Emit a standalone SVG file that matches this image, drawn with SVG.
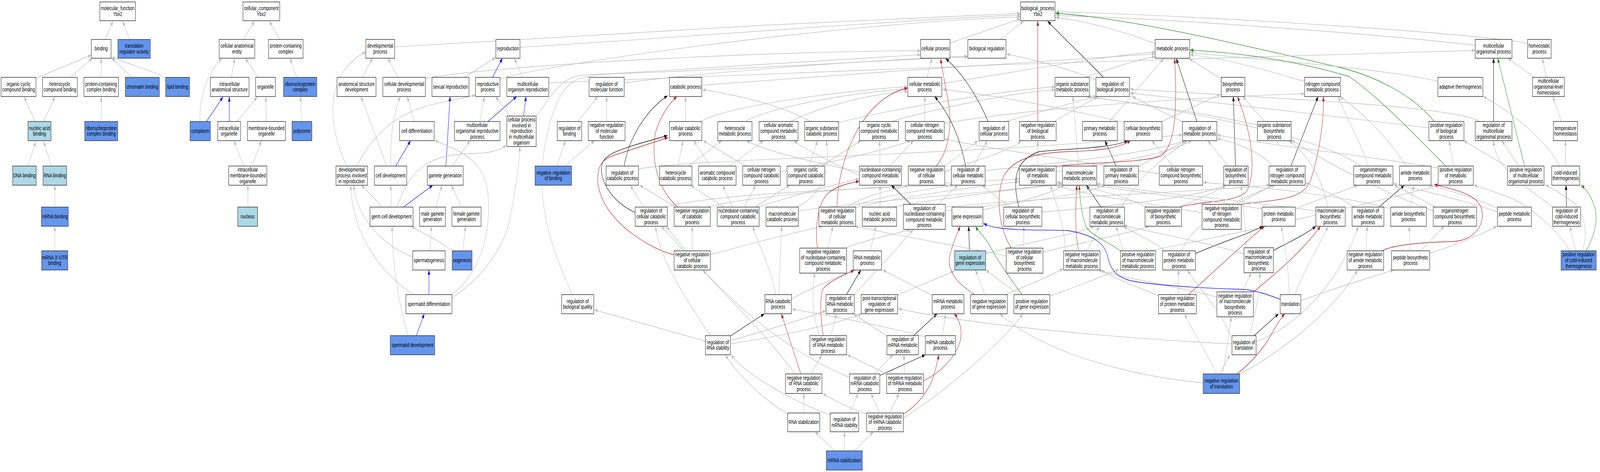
<svg xmlns="http://www.w3.org/2000/svg" width="5834" height="1208" viewBox="0 0 5834 1208" preserveAspectRatio="none">
<style>
svg{width:100vw;height:100vh}
.e path{fill:none}
.g{stroke:#c0c0c0;stroke-width:1.4;marker-end:url(#ag)}
.k{stroke:#000;stroke-width:1.3;marker-end:url(#ak)}
.r{stroke:#b22222;stroke-width:1.3;marker-end:url(#ar)}
.u{stroke:#0000ff;stroke-width:1.3;marker-end:url(#au)}
.v{stroke:#228b22;stroke-width:1.3;marker-end:url(#av)}
.nd rect{fill:#fff;stroke:#333;stroke-width:1.5}
.nd.b rect{fill:#6495ed}
.nd.lb rect{fill:#add8e6}
text{font-family:"Liberation Sans",Arial,sans-serif;font-size:14.6px;text-anchor:middle;fill:#000}
</style>
<defs>
<marker id="ag" viewBox="0 0 12 9" refX="12" refY="4.5" markerWidth="12" markerHeight="9" markerUnits="userSpaceOnUse" orient="auto"><path d="M0,0 L12,4.5 L0,9 z" fill="#c0c0c0"/></marker>
<marker id="ak" viewBox="0 0 12 9" refX="12" refY="4.5" markerWidth="12" markerHeight="9" markerUnits="userSpaceOnUse" orient="auto"><path d="M0,0 L12,4.5 L0,9 z" fill="#000"/></marker>
<marker id="ar" viewBox="0 0 12 9" refX="12" refY="4.5" markerWidth="12" markerHeight="9" markerUnits="userSpaceOnUse" orient="auto"><path d="M0,0 L12,4.5 L0,9 z" fill="#b22222"/></marker>
<marker id="au" viewBox="0 0 12 9" refX="12" refY="4.5" markerWidth="12" markerHeight="9" markerUnits="userSpaceOnUse" orient="auto"><path d="M0,0 L12,4.5 L0,9 z" fill="#0000ff"/></marker>
<marker id="av" viewBox="0 0 12 9" refX="12" refY="4.5" markerWidth="12" markerHeight="9" markerUnits="userSpaceOnUse" orient="auto"><path d="M0,0 L12,4.5 L0,9 z" fill="#228b22"/></marker>
</defs>
<rect width="5834" height="1208" fill="#fff"/>
<g id="connectors" class="e">
<path class="g" d="M384,101 L412,54"/>
<path class="g" d="M473,101 L447,54"/>
<path class="g" d="M131,200 L333,141"/>
<path class="g" d="M256,198 L337,149"/>
<path class="g" d="M369,198 L369,149"/>
<path class="g" d="M481,198 L407,149"/>
<path class="g" d="M604,200 C585,188 460,162 406,146"/>
<path class="g" d="M128,311 L88,248"/>
<path class="g" d="M159,311 L200,248"/>
<path class="g" d="M369,311 L369,248"/>
<path class="g" d="M101,425 L131,362"/>
<path class="g" d="M187,425 L159,362"/>
<path class="g" d="M200,530 L200,474"/>
<path class="g" d="M200,642 L200,579"/>
<path class="g" d="M887,101 L928,54"/>
<path class="g" d="M1020,101 L982,54"/>
<path class="g" d="M844,198 L856,149"/>
<path class="g" d="M942,198 L894,149"/>
<path class="g" d="M729,311 C728,260 740,200 809,149"/>
<path class="u" d="M753,311 L813,248"/>
<path class="u" d="M836,311 L836,248"/>
<path class="g" d="M864,311 L938,248"/>
<path class="g" d="M971,311 L969,248"/>
<path class="g" d="M888,425 L853,360"/>
<path class="g" d="M919,425 L953,360"/>
<path class="g" d="M904,530 L904,474"/>
<path class="g" d="M1082,198 L1057,149"/>
<path class="g" d="M1099,311 L1096,247"/>
<path class="g" d="M1439,120 C2000,92 3000,55 3721,34"/>
<path class="g" d="M1896,121 C2300,105 3200,55 3721,38"/>
<path class="g" d="M1823,202 C1950,170 3000,62 3721,43"/>
<path class="g" d="M3464,110 L3721,48"/>
<path class="g" d="M3647,101 L3732,54"/>
<path class="g" d="M4212,112 C4100,80 3950,52 3849,45"/>
<path class="g" d="M5379,116 C5000,85 4200,45 3849,40"/>
<path class="g" d="M5570,112 C5480,90 4400,40 3849,30"/>
<path class="r" d="M3784,311 L3784,54"/>
<path class="k" d="M4023,198 C3960,150 3880,100 3820,54"/>
<path class="v" d="M5229,311 C5150,240 5000,190 4864,169 C4500,110 4100,45 3849,34"/>
<path class="g" d="M1321,198 L1358,149"/>
<path class="g" d="M1452,198 L1414,149"/>
<path class="g" d="M1551,200 C1900,160 2900,130 3357,130"/>
<path class="g" d="M1694,198 L1807,147"/>
<path class="u" d="M1796,198 L1832,149"/>
<path class="g" d="M1906,198 L1875,149"/>
<path class="g" d="M2001,212 C2600,190 4800,135 5379,129"/>
<path class="g" d="M2276,212 C2700,175 3300,150 3529,144"/>
<path class="g" d="M2559,218 C3000,195 3900,150 4212,138"/>
<path class="g" d="M3380,198 L3399,149"/>
<path class="g" d="M3434,214 C3700,185 4000,145 4212,133"/>
<path class="g" d="M3960,198 C4050,175 4150,152 4212,145"/>
<path class="g" d="M3996,205 C3900,175 3750,150 3670,138"/>
<path class="g" d="M4450,201 L4336,150"/>
<path class="g" d="M4757,209 C4600,175 4450,148 4339,140"/>
<path class="g" d="M5243,208 C5000,170 4600,155 4339,134"/>
<path class="g" d="M5638,198 L5624,149"/>
<path class="g" d="M5594,198 L5498,149"/>
<path class="g" d="M1510,311 L1485,247"/>
<path class="g" d="M1749,311 L1766,247"/>
<path class="u" d="M1779,311 L1884,247"/>
<path class="u" d="M1909,297 L1918,247"/>
<path class="g" d="M1859,297 L1807,247"/>
<path class="g" d="M1955,297 C2010,250 2040,195 2130,192 C2600,175 3100,150 3357,140"/>
<path class="g" d="M2106,311 L2180,247"/>
<path class="g" d="M2212,311 L2212,247"/>
<path class="g" d="M2500,311 L2500,247"/>
<path class="g" d="M2555,311 C2650,270 3100,230 3310,222"/>
<path class="g" d="M2719,311 C2780,280 3100,235 3310,228"/>
<path class="g" d="M2883,311 C2950,285 3150,240 3310,234"/>
<path class="g" d="M2956,311 C2850,270 2700,245 2561,229"/>
<path class="g" d="M3058,314 C3300,270 3700,230 3847,222"/>
<path class="g" d="M3250,311 C3400,280 3700,235 3847,230"/>
<path class="g" d="M3372,311 L3372,247"/>
<path class="g" d="M3443,316 C3800,270 4500,245 4757,240"/>
<path class="g" d="M3668,311 C3800,285 3950,255 3998,246"/>
<path class="g" d="M3845,311 C3900,285 3970,262 4002,248"/>
<path class="g" d="M4045,311 L4243,150"/>
<path class="g" d="M4099,313 C3900,280 3600,240 3436,229"/>
<path class="g" d="M4237,311 L4450,241"/>
<path class="g" d="M4312,312 L4128,247"/>
<path class="g" d="M4611,311 L4531,247"/>
<path class="g" d="M4585,320 C4400,290 4100,260 3965,248"/>
<path class="g" d="M5210,327 C4900,300 4400,260 4120,238"/>
<path class="k" d="M5446,311 L5446,149"/>
<path class="g" d="M5396,311 C5300,270 4600,250 4120,228"/>
<path class="g" d="M5693,311 L5662,247"/>
<path class="k" d="M3603,311 C3560,240 3500,180 3448,150"/>
<path class="r" d="M3414,425 C3460,385 3475,320 3455,250 C3445,210 3435,180 3430,150"/>
<path class="g" d="M1264,425 C1180,300 1200,180 1334,133"/>
<path class="g" d="M1301,425 C1420,260 1600,270 1734,243"/>
<path class="g" d="M1410,425 L1316,247"/>
<path class="g" d="M1426,425 C1420,340 1440,280 1460,247"/>
<path class="u" d="M1443,425 L1497,360"/>
<path class="u" d="M1626,425 L1641,247"/>
<path class="g" d="M1649,425 L1714,360"/>
<path class="g" d="M2030,425 L2062,360"/>
<path class="g" d="M2059,425 L2168,360"/>
<path class="k" d="M2276,425 C2290,360 2350,285 2434,245"/>
<path class="g" d="M2328,433 C2500,405 3500,400 4312,345"/>
<path class="g" d="M2511,425 L2632,360"/>
<path class="g" d="M2473,425 L2490,360"/>
<path class="g" d="M2589,425 L2530,360"/>
<path class="g" d="M2663,425 L2784,360"/>
<path class="g" d="M2719,425 L2564,360"/>
<path class="g" d="M2845,440 C3000,420 3200,390 3320,360"/>
<path class="g" d="M2996,425 L3139,360"/>
<path class="g" d="M2950,425 L2981,360"/>
<path class="g" d="M3209,425 L3207,360"/>
<path class="g" d="M3244,425 L3331,360"/>
<path class="g" d="M3134,440 C3000,420 2800,390 2722,360"/>
<path class="g" d="M3134,450 C3050,420 2950,390 2895,360"/>
<path class="g" d="M3445,425 L3566,360"/>
<path class="g" d="M3445,440 C3550,410 3680,390 3724,360"/>
<path class="g" d="M3550,425 L3600,360"/>
<path class="g" d="M3592,437 C3800,420 4150,400 4322,360"/>
<path class="g" d="M3784,425 L3784,360"/>
<path class="g" d="M3851,440 C4000,420 4250,400 4345,360"/>
<path class="g" d="M3933,425 L3912,247"/>
<path class="g" d="M4150,426 L4323,360"/>
<path class="k" d="M4070,425 L4029,360"/>
<path class="g" d="M4277,425 L4200,360"/>
<path class="g" d="M4227,445 C4000,420 3600,380 3445,356"/>
<path class="k" d="M4505,425 L4497,247"/>
<path class="g" d="M4478,425 L4404,360"/>
<path class="k" d="M4707,425 L4806,247"/>
<path class="g" d="M4640,425 C4600,390 4500,362 4438,355"/>
<path class="g" d="M4988,425 C4960,360 4900,290 4880,247"/>
<path class="g" d="M4960,425 C4800,340 4200,270 3968,247"/>
<path class="g" d="M5127,425 C5050,340 4950,280 4886,247"/>
<path class="g" d="M5244,430 C5000,400 4600,370 4438,345"/>
<path class="g" d="M5300,425 L5284,360"/>
<path class="v" d="M5272,425 C5150,340 5030,250 4920,196 C4700,150 4500,135 4339,128"/>
<path class="g" d="M5538,425 L5476,360"/>
<path class="g" d="M5492,425 L5337,360"/>
<path class="v" d="M5559,425 L5461,149"/>
<path class="g" d="M5687,425 C5640,360 5500,280 5408,247"/>
<path class="g" d="M5708,425 L5708,360"/>
<path class="k" d="M3521,425 C3500,350 3460,290 3408,247"/>
<path class="r" d="M3052,530 C3055,400 3150,250 3310,225"/>
<path class="r" d="M3850,426 C3950,415 4150,418 4230,400 C4280,380 4295,300 4283,150"/>
<path class="k" d="M4364,311 L4289,150"/>
<path class="r" d="M4299,530 C4400,512 4500,520 4545,490 C4580,450 4570,350 4512,247"/>
<path class="r" d="M4525,523 C4650,510 4750,515 4780,460 C4815,380 4828,300 4825,247"/>
<path class="g" d="M1427,530 L1425,474"/>
<path class="g" d="M1395,530 L1318,474"/>
<path class="u" d="M1471,530 L1578,474"/>
<path class="g" d="M1447,530 C1500,430 1560,395 1723,393 C1790,392 1820,385 1846,372"/>
<path class="g" d="M1589,530 L1612,474"/>
<path class="g" d="M1683,530 L1646,474"/>
<path class="g" d="M2347,530 L2298,474"/>
<path class="k" d="M2316,544 C2240,520 2190,470 2193,430 C2196,395 2240,385 2434,347"/>
<path class="g" d="M2425,530 C2600,495 3200,480 3474,474"/>
<path class="r" d="M2471,530 C2390,480 2375,400 2390,340 C2405,300 2440,265 2468,247"/>
<path class="g" d="M2465,530 L2332,474"/>
<path class="g" d="M2580,530 C2800,490 3400,470 3716,458"/>
<path class="g" d="M2638,530 L2518,474"/>
<path class="g" d="M2672,530 L2635,474"/>
<path class="g" d="M2713,530 L2756,474"/>
<path class="g" d="M2753,530 L2880,474"/>
<path class="g" d="M2762,530 C2900,500 3050,470 3133,458"/>
<path class="g" d="M2905,530 C3000,500 3030,430 3012,360"/>
<path class="g" d="M2911,540 C3200,510 3700,490 3874,468"/>
<path class="g" d="M3108,530 C3200,500 3400,485 3461,474"/>
<path class="g" d="M3090,530 C3150,500 3260,485 3312,474"/>
<path class="g" d="M3115,532 C3300,500 3600,475 3716,465"/>
<path class="g" d="M3209,530 L3209,474"/>
<path class="g" d="M3256,530 C3400,510 3750,480 3874,472"/>
<path class="k" d="M3321,523 L3250,474"/>
<path class="g" d="M3420,523 L3492,474"/>
<path class="g" d="M3447,530 C3800,505 4400,490 4630,474"/>
<path class="g" d="M3447,540 C3700,520 3950,500 4030,474"/>
<path class="g" d="M3584,537 C3700,520 3820,500 3880,474"/>
<path class="g" d="M3681,530 L3581,474"/>
<path class="k" d="M3715,530 C3690,460 3700,410 3789,388 C3900,380 4050,380 4112,360"/>
<path class="g" d="M3799,543 C4000,530 4350,510 4470,474"/>
<path class="k" d="M4014,530 L3961,474"/>
<path class="g" d="M4090,530 C4150,450 4250,400 4330,360"/>
<path class="g" d="M4300,530 C4380,505 4440,490 4470,474"/>
<path class="g" d="M4180,530 C4100,500 3950,475 3853,466"/>
<path class="g" d="M4510,523 L4640,474"/>
<path class="g" d="M4383,545 C4200,520 3950,500 3850,474"/>
<path class="g" d="M4602,535 C4400,510 4100,490 3997,474"/>
<path class="g" d="M4723,535 C4800,510 4900,490 4950,474"/>
<path class="g" d="M4841,530 C4820,450 4760,390 4700,360"/>
<path class="g" d="M4798,540 C4500,510 4150,490 3999,470"/>
<path class="k" d="M5028,530 L5121,474"/>
<path class="g" d="M4935,530 C4880,500 4800,480 4760,468"/>
<path class="g" d="M5142,530 L5155,474"/>
<path class="g" d="M5075,535 C4900,500 4550,475 4387,467"/>
<path class="g" d="M5235,530 L5084,474"/>
<path class="g" d="M5226,540 C5000,480 4800,400 4708,358"/>
<path class="g" d="M5465,535 C5380,505 5270,485 5212,474"/>
<path class="g" d="M5460,542 C5300,505 5150,482 5080,470"/>
<path class="g" d="M5662,530 C5550,470 5450,430 5446,360"/>
<path class="k" d="M5712,530 L5710,474"/>
<path class="g" d="M1567,642 L1573,579"/>
<path class="g" d="M1505,658 C1400,630 1300,560 1290,474"/>
<path class="g" d="M1688,642 L1697,579"/>
<path class="g" d="M1649,642 C1600,615 1550,600 1500,579"/>
<path class="r" d="M2458,652 C2380,640 2200,570 2180,470 C2175,420 2200,405 2250,395 L2436,352"/>
<path class="g" d="M2493,642 L2412,579"/>
<path class="g" d="M2524,642 L2524,579"/>
<path class="g" d="M2590,652 C2750,620 2900,595 3000,579"/>
<path class="r" d="M2981,635 C2972,600 2975,532 3015,497 C3050,475 3100,468 3133,464"/>
<path class="g" d="M3080,635 C3150,615 3260,600 3320,587"/>
<path class="g" d="M3018,635 L3037,579"/>
<path class="g" d="M3173,642 L3194,579"/>
<path class="k" d="M3535,642 L3532,579"/>
<path class="g" d="M3594,649 C3750,620 3920,600 3990,579"/>
<path class="g" d="M3733,635 L3733,579"/>
<path class="r" d="M3687,635 C3640,580 3630,500 3660,450 C3700,400 3800,390 3900,388 C4000,386 4080,380 4122,360"/>
<path class="g" d="M3803,645 C3950,620 4100,600 4190,579"/>
<path class="g" d="M3669,655 C3500,630 3250,600 3117,579"/>
<path class="r" d="M3933,642 C3920,600 3920,530 3927,474"/>
<path class="g" d="M3964,642 L4008,579"/>
<path class="g" d="M3885,642 C3880,570 3850,520 3830,474"/>
<path class="v" d="M4086,642 C4030,615 3975,600 3960,580 C3940,540 3937,500 3935,474"/>
<path class="g" d="M4095,642 L4070,579"/>
<path class="g" d="M4190,642 C4500,600 5000,520 5250,474"/>
<path class="k" d="M4359,649 C4450,620 4550,600 4605,579"/>
<path class="g" d="M4248,642 C4200,615 4130,595 4096,579"/>
<path class="g" d="M4310,642 C4350,560 4550,500 4650,474"/>
<path class="k" d="M4643,641 C4700,620 4760,600 4798,579"/>
<path class="g" d="M4545,634 C4540,560 4530,510 4525,474"/>
<path class="g" d="M4536,650 C4400,620 4200,595 4098,577"/>
<path class="r" d="M5040,642 C5080,625 5200,620 5300,618 C5380,615 5420,570 5400,530 C5380,495 5300,485 5229,472"/>
<path class="g" d="M4981,642 L4985,579"/>
<path class="g" d="M5142,642 L5138,579"/>
<path class="g" d="M5213,648 C5300,630 5400,600 5458,579"/>
<path class="g" d="M5180,642 L5266,579"/>
<path class="g" d="M5745,642 L5724,579"/>
<path class="v" d="M5783,642 C5806,615 5830,570 5815,530 C5800,500 5785,485 5765,474"/>
<path class="g" d="M5770,642 C5790,600 5780,550 5740,520 C5700,500 5660,480 5634,474"/>
<path class="g" d="M5725,642 C5680,590 5600,540 5520,510 C5450,490 5400,480 5374,474"/>
<path class="u" d="M1564,754 L1564,691"/>
<path class="g" d="M1648,754 C1750,700 1790,600 1780,500 C1770,420 1700,390 1585,360"/>
<path class="g" d="M1648,762 C1740,720 1830,650 1860,560 C1880,480 1895,420 1895,375"/>
<path class="g" d="M1505,754 C1400,700 1290,620 1278,474"/>
<path class="g" d="M2087,754 C2000,620 1930,480 2013,297 C2060,200 2100,192 2260,188 C2800,175 3300,150 3529,146"/>
<path class="g" d="M2829,754 C2810,680 2760,620 2745,579"/>
<path class="g" d="M2840,754 L2850,579"/>
<path class="g" d="M2886,765 C2950,740 3050,710 3118,691"/>
<path class="k" d="M3086,754 L3139,691"/>
<path class="g" d="M3114,754 C3200,690 3280,630 3330,587"/>
<path class="g" d="M3272,756 C3350,730 3430,710 3481,693"/>
<path class="g" d="M3399,756 L3219,691"/>
<path class="g" d="M3591,754 L3557,691"/>
<path class="r" d="M3554,754 C3500,730 3460,700 3461,669 C3462,640 3490,600 3501,579"/>
<path class="g" d="M3665,754 C3750,730 3830,705 3877,688"/>
<path class="g" d="M3715,754 L3594,691"/>
<path class="v" d="M3727,754 C3690,720 3640,670 3610,630 C3590,605 3565,590 3557,579"/>
<path class="g" d="M3828,758 C3920,735 4030,705 4080,689"/>
<path class="g" d="M4296,754 L4297,691"/>
<path class="r" d="M4333,754 C4450,680 4540,620 4611,579"/>
<path class="g" d="M4224,757 C4150,735 4060,712 4015,691"/>
<path class="g" d="M4531,747 L4562,698"/>
<path class="r" d="M4571,747 C4650,700 4740,650 4815,579"/>
<path class="g" d="M4437,760 C4300,735 4100,712 4005,691"/>
<path class="u" d="M4668,766 C4600,748 4560,740 4512,740 C4400,738 4200,730 4120,718 C4070,708 4050,690 4040,660 C4030,620 3980,600 3893,590 C3800,588 3700,590 3640,583 C3610,580 3598,576 3586,572"/>
<path class="g" d="M4701,754 C4700,680 4680,620 4672,579"/>
<path class="g" d="M4722,754 C4760,680 4820,620 4842,579"/>
<path class="g" d="M4743,770 C4850,740 5000,710 5082,691"/>
<path class="u" d="M1518,859 L1547,803"/>
<path class="g" d="M1489,859 C1460,800 1430,680 1430,579"/>
<path class="g" d="M2572,873 L2167,793"/>
<path class="k" d="M2663,860 L2787,803"/>
<path class="g" d="M2589,859 C2520,780 2410,680 2390,579"/>
<path class="g" d="M2663,872 C2800,845 2950,812 3012,795"/>
<path class="g" d="M2663,880 C2850,860 3050,830 3142,803"/>
<path class="r" d="M3002,859 C2990,810 2990,760 3000,740 C3030,715 3080,705 3114,691"/>
<path class="g" d="M3030,859 L3050,803"/>
<path class="g" d="M2987,859 C2960,800 2960,740 2972,698"/>
<path class="k" d="M3331,859 L3417,803"/>
<path class="g" d="M3234,860 L3112,803"/>
<path class="g" d="M3436,859 L3448,803"/>
<path class="g" d="M3374,862 C3200,830 3000,805 2888,791"/>
<path class="k" d="M4573,859 L4662,803"/>
<path class="g" d="M4487,860 C4450,790 4360,730 4330,691"/>
<path class="g" d="M4555,859 C4580,800 4595,740 4593,698"/>
<path class="g" d="M4492,880 C4200,870 3600,840 3275,790"/>
<path class="g" d="M4580,874 C4750,830 4900,700 4952,579"/>
<path class="g" d="M2899,957 C2800,860 2650,760 2562,691"/>
<path class="r" d="M2920,957 L2849,803"/>
<path class="g" d="M2955,958 C2970,940 2985,925 2996,908"/>
<path class="k" d="M3208,961 L3374,908"/>
<path class="g" d="M3188,957 L3256,908"/>
<path class="g" d="M3098,966 C2800,880 2560,700 2430,579"/>
<path class="g" d="M3298,957 L3296,908"/>
<path class="r" d="M3367,975 C3440,950 3500,900 3504,860 C3506,835 3495,815 3479,803"/>
<path class="g" d="M3234,957 L3089,908"/>
<path class="g" d="M4447,958 L4485,908"/>
<path class="r" d="M4509,958 C4560,930 4610,890 4636,855 C4660,825 4675,810 4685,803"/>
<path class="g" d="M4436,958 C4400,900 4340,840 4320,803"/>
<path class="g" d="M4458,958 L4490,811"/>
<path class="g" d="M4387,980 C4100,960 3800,900 3645,803"/>
<path class="g" d="M4520,958 C4700,890 4880,780 4950,691"/>
<path class="g" d="M2931,1057 L2931,1007"/>
<path class="g" d="M2872,1060 C2780,1020 2690,960 2645,908"/>
<path class="g" d="M3098,1057 L3129,1007"/>
<path class="g" d="M3027,1062 C2900,1030 2720,960 2665,908"/>
<path class="g" d="M3207,1057 L3176,1007"/>
<path class="g" d="M3244,1057 L3278,1007"/>
<path class="r" d="M3294,1060 C3340,1040 3390,1000 3405,960 C3415,935 3420,920 3424,908"/>
<path class="g" d="M3160,1060 C3080,1040 3030,1020 3000,1007"/>
<path class="g" d="M3294,1070 C3450,1000 3650,880 3730,803"/>
<path class="g" d="M3043,1154 L2972,1105"/>
<path class="g" d="M3079,1154 L3079,1105"/>
<path class="g" d="M3114,1154 L3185,1105"/>
</g>
<g id="nodes">
<g id="mf" class="nd"><rect x="364" y="5" width="130" height="48"/><text x="429" y="26.2">molecular_function<tspan x="429" dy="14.6">Ybx2</tspan></text></g>
<g id="binding" class="nd"><rect x="333" y="101" width="72" height="48"/><text x="369" y="129.5">binding</text></g>
<g id="tra" class="nd b"><rect x="430" y="101" width="118" height="48"/><text x="489" y="122.2">translation<tspan x="489" dy="14.6">regulator activity</tspan></text></g>
<g id="ocb" class="nd"><rect x="4" y="198" width="127" height="49"/><text x="67.5" y="219.7">organic cyclic<tspan x="67.5" dy="14.6">compound binding</tspan></text></g>
<g id="hcb" class="nd"><rect x="155" y="198" width="127" height="49"/><text x="218.5" y="219.7">heterocyclic<tspan x="218.5" dy="14.6">compound binding</tspan></text></g>
<g id="pccb" class="nd"><rect x="306" y="198" width="126" height="49"/><text x="369" y="219.7">protein-containing<tspan x="369" dy="14.6">complex binding</tspan></text></g>
<g id="chromatin" class="nd b"><rect x="457" y="198" width="124" height="49"/><text x="519" y="227">chromatin binding</text></g>
<g id="lipid" class="nd b"><rect x="604" y="198" width="87" height="49"/><text x="647.5" y="227">lipid binding</text></g>
<g id="nab" class="nd lb"><rect x="102" y="311" width="84" height="49"/><text x="144" y="332.7">nucleic acid<tspan x="144" dy="14.6">binding</tspan></text></g>
<g id="rcb" class="nd b"><rect x="309" y="311" width="120" height="49"/><text x="369" y="332.7">ribonucleoprotein<tspan x="369" dy="14.6">complex binding</tspan></text></g>
<g id="dna" class="nd lb"><rect x="46" y="425" width="86" height="49"/><text x="89" y="454">DNA binding</text></g>
<g id="rna" class="nd lb"><rect x="157" y="425" width="86" height="49"/><text x="200" y="454">RNA binding</text></g>
<g id="mrnab" class="nd b"><rect x="151" y="530" width="98" height="49"/><text x="200" y="559">mRNA binding</text></g>
<g id="utr" class="nd b"><rect x="152" y="642" width="95" height="49"/><text x="199.5" y="663.7">mRNA 3'-UTR<tspan x="199.5" dy="14.6">binding</tspan></text></g>
<g id="cc" class="nd"><rect x="886" y="5" width="134" height="48"/><text x="953" y="26.2">cellular_component<tspan x="953" dy="14.6">Ybx2</tspan></text></g>
<g id="cae" class="nd"><rect x="799" y="101" width="130" height="48"/><text x="864" y="122.2">cellular anatomical<tspan x="864" dy="14.6">entity</tspan></text></g>
<g id="pcc" class="nd"><rect x="979" y="101" width="126" height="48"/><text x="1042" y="122.2">protein-containing<tspan x="1042" dy="14.6">complex</tspan></text></g>
<g id="ias" class="nd"><rect x="767" y="198" width="141" height="49"/><text x="837.5" y="219.7">intracellular<tspan x="837.5" dy="14.6">anatomical structure</tspan></text></g>
<g id="org" class="nd"><rect x="932" y="198" width="72" height="49"/><text x="968" y="227">organelle</text></g>
<g id="rnpc" class="nd b"><rect x="1034" y="198" width="121" height="49"/><text x="1094.5" y="219.7">ribonucleoprotein<tspan x="1094.5" dy="14.6">complex</tspan></text></g>
<g id="cyto" class="nd b"><rect x="693" y="311" width="74" height="49"/><text x="730" y="340">cytoplasm</text></g>
<g id="iorg" class="nd"><rect x="794" y="311" width="83" height="49"/><text x="835.5" y="332.7">intracellular<tspan x="835.5" dy="14.6">organelle</tspan></text></g>
<g id="mbo" class="nd"><rect x="902" y="311" width="139" height="49"/><text x="971.5" y="332.7">membrane-bounded<tspan x="971.5" dy="14.6">organelle</tspan></text></g>
<g id="polysome" class="nd b"><rect x="1065" y="311" width="72" height="49"/><text x="1101" y="340">polysome</text></g>
<g id="imbo" class="nd"><rect x="834" y="425" width="139" height="49"/><text x="903.5" y="439.4">intracellular<tspan x="903.5" dy="14.6">membrane-bounded</tspan><tspan x="903.5" dy="14.6">organelle</tspan></text></g>
<g id="nucleus" class="nd lb"><rect x="867" y="530" width="72" height="49"/><text x="903" y="559">nucleus</text></g>
<g id="bp" class="nd"><rect x="3721" y="5" width="126" height="48"/><text x="3784" y="26.2">biological_process<tspan x="3784" dy="14.6">Ybx2</tspan></text></g>
<g id="devp" class="nd"><rect x="1334" y="101" width="105" height="48"/><text x="1386.5" y="122.2">developmental<tspan x="1386.5" dy="14.6">process</tspan></text></g>
<g id="repro" class="nd"><rect x="1808" y="101" width="88" height="48"/><text x="1852" y="129.5">reproduction</text></g>
<g id="cellp" class="nd"><rect x="3357" y="101" width="107" height="48"/><text x="3410.5" y="129.5">cellular process</text></g>
<g id="bioreg" class="nd"><rect x="3529" y="101" width="139" height="48"/><text x="3598.5" y="129.5">biological regulation</text></g>
<g id="metp" class="nd"><rect x="4212" y="101" width="126" height="48"/><text x="4275" y="129.5">metabolic process</text></g>
<g id="mop" class="nd"><rect x="5379" y="101" width="134" height="48"/><text x="5446" y="122.2">multicellular<tspan x="5446" dy="14.6">organismal process</tspan></text></g>
<g id="homp" class="nd"><rect x="5570" y="101" width="86" height="48"/><text x="5613" y="122.2">homeostatic<tspan x="5613" dy="14.6">process</tspan></text></g>
<g id="asd" class="nd"><rect x="1229" y="198" width="142" height="49"/><text x="1300" y="219.7">anatomical structure<tspan x="1300" dy="14.6">development</tspan></text></g>
<g id="cdp" class="nd"><rect x="1396" y="198" width="155" height="49"/><text x="1473.5" y="219.7">cellular developmental<tspan x="1473.5" dy="14.6">process</tspan></text></g>
<g id="sexr" class="nd"><rect x="1575" y="198" width="135" height="49"/><text x="1642.5" y="227">sexual reproduction</text></g>
<g id="rp" class="nd"><rect x="1734" y="198" width="89" height="49"/><text x="1778.5" y="219.7">reproductive<tspan x="1778.5" dy="14.6">process</tspan></text></g>
<g id="mor" class="nd"><rect x="1848" y="198" width="153" height="49"/><text x="1924.5" y="219.7">multicellular<tspan x="1924.5" dy="14.6">organism reproduction</tspan></text></g>
<g id="rmf" class="nd"><rect x="2148" y="198" width="128" height="49"/><text x="2212" y="219.7">regulation of<tspan x="2212" dy="14.6">molecular function</tspan></text></g>
<g id="catp" class="nd"><rect x="2441" y="198" width="118" height="49"/><text x="2500" y="227">catabolic process</text></g>
<g id="cmp" class="nd"><rect x="3310" y="198" width="124" height="49"/><text x="3372" y="219.7">cellular metabolic<tspan x="3372" dy="14.6">process</tspan></text></g>
<g id="osmp" class="nd"><rect x="3847" y="198" width="125" height="49"/><text x="3909.5" y="219.7">organic substance<tspan x="3909.5" dy="14.6">metabolic process</tspan></text></g>
<g id="rbp" class="nd"><rect x="3996" y="198" width="122" height="49"/><text x="4057" y="219.7">regulation of<tspan x="4057" dy="14.6">biological process</tspan></text></g>
<g id="biosp" class="nd"><rect x="4453" y="198" width="86" height="49"/><text x="4496" y="219.7">biosynthetic<tspan x="4496" dy="14.6">process</tspan></text></g>
<g id="ncmp" class="nd"><rect x="4757" y="198" width="131" height="49"/><text x="4822.5" y="219.7">nitrogen compound<tspan x="4822.5" dy="14.6">metabolic process</tspan></text></g>
<g id="adth" class="nd"><rect x="5243" y="198" width="164" height="49"/><text x="5325" y="227">adaptive thermogenesis</text></g>
<g id="molh" class="nd"><rect x="5588" y="198" width="116" height="49"/><text x="5646" y="212.4">multicellular<tspan x="5646" dy="14.6">organismal-level</tspan><tspan x="5646" dy="14.6">homeostasis</tspan></text></g>
<g id="celldiff" class="nd"><rect x="1457" y="311" width="126" height="49"/><text x="1520" y="340">cell differentiation</text></g>
<g id="morp" class="nd"><rect x="1657" y="311" width="166" height="49"/><text x="1740" y="325.4">multicellular<tspan x="1740" dy="14.6">organismal reproductive</tspan><tspan x="1740" dy="14.6">process</tspan></text></g>
<g id="cpir" class="nd"><rect x="1848" y="297" width="107" height="78"/><text x="1901.5" y="311.3">cellular process<tspan x="1901.5" dy="14.6">involved in</tspan><tspan x="1901.5" dy="14.6">reproduction</tspan><tspan x="1901.5" dy="14.6">in multicellular</tspan><tspan x="1901.5" dy="14.6">organism</tspan></text></g>
<g id="rbind" class="nd"><rect x="2032" y="311" width="89" height="49"/><text x="2076.5" y="332.7">regulation of<tspan x="2076.5" dy="14.6">binding</tspan></text></g>
<g id="nrmf" class="nd"><rect x="2145" y="311" width="134" height="49"/><text x="2212" y="325.4">negative regulation<tspan x="2212" dy="14.6">of molecular</tspan><tspan x="2212" dy="14.6">function</tspan></text></g>
<g id="ccatp" class="nd"><rect x="2441" y="311" width="118" height="49"/><text x="2500" y="332.7">cellular catabolic<tspan x="2500" dy="14.6">process</tspan></text></g>
<g id="hmp" class="nd"><rect x="2617" y="311" width="125" height="49"/><text x="2679.5" y="332.7">heterocycle<tspan x="2679.5" dy="14.6">metabolic process</tspan></text></g>
<g id="camp" class="nd"><rect x="2768" y="311" width="142" height="49"/><text x="2839" y="325.4">cellular aromatic<tspan x="2839" dy="14.6">compound metabolic</tspan><tspan x="2839" dy="14.6">process</tspan></text></g>
<g id="oscp" class="nd"><rect x="2934" y="311" width="124" height="49"/><text x="2996" y="332.7">organic substance<tspan x="2996" dy="14.6">catabolic process</tspan></text></g>
<g id="occmp" class="nd"><rect x="3134" y="311" width="142" height="49"/><text x="3205" y="325.4">organic cyclic<tspan x="3205" dy="14.6">compound metabolic</tspan><tspan x="3205" dy="14.6">process</tspan></text></g>
<g id="cncmp" class="nd"><rect x="3301" y="311" width="142" height="49"/><text x="3372" y="325.4">cellular nitrogen<tspan x="3372" dy="14.6">compound metabolic</tspan><tspan x="3372" dy="14.6">process</tspan></text></g>
<g id="rcp" class="nd"><rect x="3570" y="311" width="108" height="49"/><text x="3624" y="332.7">regulation of<tspan x="3624" dy="14.6">cellular process</tspan></text></g>
<g id="nrbp" class="nd"><rect x="3717" y="311" width="134" height="49"/><text x="3784" y="325.4">negative regulation<tspan x="3784" dy="14.6">of biological</tspan><tspan x="3784" dy="14.6">process</tspan></text></g>
<g id="pmp" class="nd"><rect x="3947" y="311" width="127" height="49"/><text x="4010.5" y="332.7">primary metabolic<tspan x="4010.5" dy="14.6">process</tspan></text></g>
<g id="cbp" class="nd"><rect x="4099" y="311" width="138" height="49"/><text x="4168" y="332.7">cellular biosynthetic<tspan x="4168" dy="14.6">process</tspan></text></g>
<g id="rmp" class="nd"><rect x="4312" y="311" width="125" height="49"/><text x="4374.5" y="332.7">regulation of<tspan x="4374.5" dy="14.6">metabolic process</tspan></text></g>
<g id="osbp" class="nd"><rect x="4585" y="311" width="123" height="49"/><text x="4646.5" y="325.4">organic substance<tspan x="4646.5" dy="14.6">biosynthetic</tspan><tspan x="4646.5" dy="14.6">process</tspan></text></g>
<g id="prbp" class="nd"><rect x="5210" y="311" width="128" height="49"/><text x="5274" y="325.4">positive regulation<tspan x="5274" dy="14.6">of biological</tspan><tspan x="5274" dy="14.6">process</tspan></text></g>
<g id="rmop" class="nd"><rect x="5379" y="311" width="134" height="49"/><text x="5446" y="325.4">regulation of<tspan x="5446" dy="14.6">multicellular</tspan><tspan x="5446" dy="14.6">organismal process</tspan></text></g>
<g id="temph" class="nd"><rect x="5664" y="311" width="88" height="49"/><text x="5708" y="332.7">temperature<tspan x="5708" dy="14.6">homeostasis</tspan></text></g>
<g id="dpir" class="nd"><rect x="1225" y="425" width="115" height="49"/><text x="1282.5" y="439.4">developmental<tspan x="1282.5" dy="14.6">process involved</tspan><tspan x="1282.5" dy="14.6">in reproduction</tspan></text></g>
<g id="celldev" class="nd"><rect x="1365" y="425" width="118" height="49"/><text x="1424" y="454">cell development</text></g>
<g id="gamg" class="nd"><rect x="1558" y="425" width="131" height="49"/><text x="1623.5" y="454">gamete generation</text></g>
<g id="nrbind" class="nd b"><rect x="1951" y="425" width="133" height="49"/><text x="2017.5" y="446.7">negative regulation<tspan x="2017.5" dy="14.6">of binding</tspan></text></g>
<g id="rcatp" class="nd"><rect x="2210" y="425" width="118" height="49"/><text x="2269" y="446.7">regulation of<tspan x="2269" dy="14.6">catabolic process</tspan></text></g>
<g id="hcatp" class="nd"><rect x="2405" y="425" width="118" height="49"/><text x="2464" y="446.7">heterocycle<tspan x="2464" dy="14.6">catabolic process</tspan></text></g>
<g id="acatp" class="nd"><rect x="2547" y="425" width="137" height="49"/><text x="2615.5" y="446.7">aromatic compound<tspan x="2615.5" dy="14.6">catabolic process</tspan></text></g>
<g id="cnccp" class="nd"><rect x="2708" y="425" width="137" height="49"/><text x="2776.5" y="439.4">cellular nitrogen<tspan x="2776.5" dy="14.6">compound catabolic</tspan><tspan x="2776.5" dy="14.6">process</tspan></text></g>
<g id="occcp" class="nd"><rect x="2870" y="425" width="137" height="49"/><text x="2938.5" y="439.4">organic cyclic<tspan x="2938.5" dy="14.6">compound catabolic</tspan><tspan x="2938.5" dy="14.6">process</tspan></text></g>
<g id="nbcmp" class="nd"><rect x="3134" y="425" width="153" height="49"/><text x="3210.5" y="439.4">nucleobase-containing<tspan x="3210.5" dy="14.6">compound metabolic</tspan><tspan x="3210.5" dy="14.6">process</tspan></text></g>
<g id="nrcp" class="nd"><rect x="3312" y="425" width="133" height="49"/><text x="3378.5" y="439.4">negative regulation<tspan x="3378.5" dy="14.6">of cellular</tspan><tspan x="3378.5" dy="14.6">process</tspan></text></g>
<g id="rcmp" class="nd"><rect x="3469" y="425" width="123" height="49"/><text x="3530.5" y="439.4">regulation of<tspan x="3530.5" dy="14.6">cellular metabolic</tspan><tspan x="3530.5" dy="14.6">process</tspan></text></g>
<g id="nrmp" class="nd"><rect x="3717" y="425" width="134" height="49"/><text x="3784" y="439.4">negative regulation<tspan x="3784" dy="14.6">of metabolic</tspan><tspan x="3784" dy="14.6">process</tspan></text></g>
<g id="mmp" class="nd"><rect x="3874" y="425" width="125" height="49"/><text x="3936.5" y="446.7">macromolecule<tspan x="3936.5" dy="14.6">metabolic process</tspan></text></g>
<g id="rpmp" class="nd"><rect x="4025" y="425" width="126" height="49"/><text x="4088" y="439.4">regulation of<tspan x="4088" dy="14.6">primary metabolic</tspan><tspan x="4088" dy="14.6">process</tspan></text></g>
<g id="cncbp" class="nd"><rect x="4227" y="425" width="158" height="49"/><text x="4306" y="439.4">cellular nitrogen<tspan x="4306" dy="14.6">compound biosynthetic</tspan><tspan x="4306" dy="14.6">process</tspan></text></g>
<g id="rbsp" class="nd"><rect x="4462" y="425" width="89" height="49"/><text x="4506.5" y="439.4">regulation of<tspan x="4506.5" dy="14.6">biosynthetic</tspan><tspan x="4506.5" dy="14.6">process</tspan></text></g>
<g id="rncmp" class="nd"><rect x="4627" y="425" width="132" height="49"/><text x="4693" y="439.4">regulation of<tspan x="4693" dy="14.6">nitrogen compound</tspan><tspan x="4693" dy="14.6">metabolic process</tspan></text></g>
<g id="oncmp" class="nd"><rect x="4936" y="425" width="143" height="49"/><text x="5007.5" y="439.4">organonitrogen<tspan x="5007.5" dy="14.6">compound metabolic</tspan><tspan x="5007.5" dy="14.6">process</tspan></text></g>
<g id="amp" class="nd"><rect x="5103" y="425" width="115" height="49"/><text x="5160.5" y="446.7">amide metabolic<tspan x="5160.5" dy="14.6">process</tspan></text></g>
<g id="prmp" class="nd"><rect x="5244" y="425" width="128" height="49"/><text x="5308" y="439.4">positive regulation<tspan x="5308" dy="14.6">of metabolic</tspan><tspan x="5308" dy="14.6">process</tspan></text></g>
<g id="prmop" class="nd"><rect x="5497" y="425" width="133" height="49"/><text x="5563.5" y="439.4">positive regulation<tspan x="5563.5" dy="14.6">of multicellular</tspan><tspan x="5563.5" dy="14.6">organismal process</tspan></text></g>
<g id="cith" class="nd"><rect x="5658" y="425" width="102" height="49"/><text x="5709" y="446.7">cold-induced<tspan x="5709" dy="14.6">thermogenesis</tspan></text></g>
<g id="gcd" class="nd"><rect x="1349" y="530" width="157" height="49"/><text x="1427.5" y="559">germ cell development</text></g>
<g id="mgg" class="nd"><rect x="1530" y="530" width="94" height="49"/><text x="1577" y="551.7">male gamete<tspan x="1577" dy="14.6">generation</tspan></text></g>
<g id="fgg" class="nd"><rect x="1648" y="530" width="106" height="49"/><text x="1701" y="551.7">female gamete<tspan x="1701" dy="14.6">generation</tspan></text></g>
<g id="rccp" class="nd"><rect x="2316" y="530" width="117" height="49"/><text x="2374.5" y="544.4">regulation of<tspan x="2374.5" dy="14.6">cellular catabolic</tspan><tspan x="2374.5" dy="14.6">process</tspan></text></g>
<g id="nrcatp" class="nd"><rect x="2458" y="530" width="132" height="49"/><text x="2524" y="544.4">negative regulation<tspan x="2524" dy="14.6">of catabolic</tspan><tspan x="2524" dy="14.6">process</tspan></text></g>
<g id="nbccp" class="nd"><rect x="2615" y="530" width="153" height="49"/><text x="2691.5" y="544.4">nucleobase-containing<tspan x="2691.5" dy="14.6">compound catabolic</tspan><tspan x="2691.5" dy="14.6">process</tspan></text></g>
<g id="mcatp" class="nd"><rect x="2793" y="530" width="118" height="49"/><text x="2852" y="551.7">macromolecule<tspan x="2852" dy="14.6">catabolic process</tspan></text></g>
<g id="nrcmp" class="nd"><rect x="2986" y="530" width="134" height="49"/><text x="3053" y="544.4">negative regulation<tspan x="3053" dy="14.6">of cellular</tspan><tspan x="3053" dy="14.6">metabolic process</tspan></text></g>
<g id="namp" class="nd"><rect x="3144" y="530" width="125" height="49"/><text x="3206.5" y="551.7">nucleic acid<tspan x="3206.5" dy="14.6">metabolic process</tspan></text></g>
<g id="rnbcmp" class="nd"><rect x="3294" y="523" width="153" height="64"/><text x="3370.5" y="537.6">regulation of<tspan x="3370.5" dy="14.6">nucleobase-containing</tspan><tspan x="3370.5" dy="14.6">compound metabolic</tspan><tspan x="3370.5" dy="14.6">process</tspan></text></g>
<g id="gexp" class="nd"><rect x="3471" y="530" width="113" height="49"/><text x="3527.5" y="559">gene expression</text></g>
<g id="rcbp" class="nd"><rect x="3660" y="530" width="139" height="49"/><text x="3729.5" y="544.4">regulation of<tspan x="3729.5" dy="14.6">cellular biosynthetic</tspan><tspan x="3729.5" dy="14.6">process</tspan></text></g>
<g id="rmmp" class="nd"><rect x="3974" y="530" width="126" height="49"/><text x="4037" y="544.4">regulation of<tspan x="4037" dy="14.6">macromolecule</tspan><tspan x="4037" dy="14.6">metabolic process</tspan></text></g>
<g id="nrbsp" class="nd"><rect x="4175" y="530" width="133" height="49"/><text x="4241.5" y="544.4">negative regulation<tspan x="4241.5" dy="14.6">of biosynthetic</tspan><tspan x="4241.5" dy="14.6">process</tspan></text></g>
<g id="nrncmp" class="nd"><rect x="4383" y="523" width="143" height="64"/><text x="4454.5" y="537.6">negative regulation<tspan x="4454.5" dy="14.6">of nitrogen</tspan><tspan x="4454.5" dy="14.6">compound metabolic</tspan><tspan x="4454.5" dy="14.6">process</tspan></text></g>
<g id="protmp" class="nd"><rect x="4602" y="530" width="121" height="49"/><text x="4662.5" y="551.7">protein metabolic<tspan x="4662.5" dy="14.6">process</tspan></text></g>
<g id="mbp" class="nd"><rect x="4798" y="530" width="107" height="49"/><text x="4851.5" y="544.4">macromolecule<tspan x="4851.5" dy="14.6">biosynthetic</tspan><tspan x="4851.5" dy="14.6">process</tspan></text></g>
<g id="ramp" class="nd"><rect x="4930" y="530" width="116" height="49"/><text x="4988" y="544.4">regulation of<tspan x="4988" dy="14.6">amide metabolic</tspan><tspan x="4988" dy="14.6">process</tspan></text></g>
<g id="abp" class="nd"><rect x="5071" y="530" width="130" height="49"/><text x="5136" y="551.7">amide biosynthetic<tspan x="5136" dy="14.6">process</tspan></text></g>
<g id="oncbp" class="nd"><rect x="5226" y="530" width="158" height="49"/><text x="5305" y="544.4">organonitrogen<tspan x="5305" dy="14.6">compound biosynthetic</tspan><tspan x="5305" dy="14.6">process</tspan></text></g>
<g id="pepmp" class="nd"><rect x="5460" y="530" width="124" height="49"/><text x="5522" y="551.7">peptide metabolic<tspan x="5522" dy="14.6">process</tspan></text></g>
<g id="rcith" class="nd"><rect x="5661" y="530" width="102" height="49"/><text x="5712" y="544.4">regulation of<tspan x="5712" dy="14.6">cold-induced</tspan><tspan x="5712" dy="14.6">thermogenesis</tspan></text></g>
<g id="sperm" class="nd"><rect x="1505" y="642" width="118" height="49"/><text x="1564" y="671">spermatogenesis</text></g>
<g id="oog" class="nd b"><rect x="1649" y="642" width="72" height="49"/><text x="1685" y="671">oogenesis</text></g>
<g id="nrccp" class="nd"><rect x="2458" y="642" width="132" height="49"/><text x="2524" y="656.4">negative regulation<tspan x="2524" dy="14.6">of cellular</tspan><tspan x="2524" dy="14.6">catabolic process</tspan></text></g>
<g id="nrnbcmp" class="nd"><rect x="2916" y="635" width="171" height="64"/><text x="3001.5" y="649.1">negative regulation<tspan x="3001.5" dy="14.6">of nucleobase-containing</tspan><tspan x="3001.5" dy="14.6">compound metabolic</tspan><tspan x="3001.5" dy="14.6">process</tspan></text></g>
<g id="rnamp" class="nd"><rect x="3111" y="642" width="103" height="49"/><text x="3162.5" y="663.7">RNA metabolic<tspan x="3162.5" dy="14.6">process</tspan></text></g>
<g id="rgexp" class="nd lb"><rect x="3481" y="642" width="113" height="49"/><text x="3537.5" y="663.7">regulation of<tspan x="3537.5" dy="14.6">gene expression</tspan></text></g>
<g id="nrcbp" class="nd"><rect x="3669" y="635" width="134" height="64"/><text x="3736" y="649.1">negative regulation<tspan x="3736" dy="14.6">of cellular</tspan><tspan x="3736" dy="14.6">biosynthetic</tspan><tspan x="3736" dy="14.6">process</tspan></text></g>
<g id="nrmmp" class="nd"><rect x="3878" y="642" width="133" height="49"/><text x="3944.5" y="656.4">negative regulation<tspan x="3944.5" dy="14.6">of macromolecule</tspan><tspan x="3944.5" dy="14.6">metabolic process</tspan></text></g>
<g id="prmmp" class="nd"><rect x="4086" y="642" width="127" height="49"/><text x="4149.5" y="656.4">positive regulation<tspan x="4149.5" dy="14.6">of macromolecule</tspan><tspan x="4149.5" dy="14.6">metabolic process</tspan></text></g>
<g id="rpromp" class="nd"><rect x="4239" y="642" width="120" height="49"/><text x="4299" y="656.4">regulation of<tspan x="4299" dy="14.6">protein metabolic</tspan><tspan x="4299" dy="14.6">process</tspan></text></g>
<g id="rmbp" class="nd"><rect x="4536" y="634" width="107" height="64"/><text x="4589.5" y="648.6">regulation of<tspan x="4589.5" dy="14.6">macromolecule</tspan><tspan x="4589.5" dy="14.6">biosynthetic</tspan><tspan x="4589.5" dy="14.6">process</tspan></text></g>
<g id="nramp" class="nd"><rect x="4912" y="642" width="133" height="49"/><text x="4978.5" y="656.4">negative regulation<tspan x="4978.5" dy="14.6">of amide metabolic</tspan><tspan x="4978.5" dy="14.6">process</tspan></text></g>
<g id="pepbp" class="nd"><rect x="5074" y="642" width="139" height="49"/><text x="5143.5" y="663.7">peptide biosynthetic<tspan x="5143.5" dy="14.6">process</tspan></text></g>
<g id="prcith" class="nd b"><rect x="5692" y="642" width="128" height="49"/><text x="5756" y="656.4">positive regulation<tspan x="5756" dy="14.6">of cold-induced</tspan><tspan x="5756" dy="14.6">thermogenesis</tspan></text></g>
<g id="sdiff" class="nd"><rect x="1480" y="754" width="168" height="49"/><text x="1564" y="783">spermatid differentiation</text></g>
<g id="rbq" class="nd"><rect x="2048" y="754" width="117" height="49"/><text x="2106.5" y="775.7">regulation of<tspan x="2106.5" dy="14.6">biological quality</tspan></text></g>
<g id="rnacp" class="nd"><rect x="2789" y="754" width="97" height="49"/><text x="2837.5" y="775.7">RNA catabolic<tspan x="2837.5" dy="14.6">process</tspan></text></g>
<g id="rrnamp" class="nd"><rect x="3012" y="754" width="103" height="49"/><text x="3063.5" y="768.4">regulation of<tspan x="3063.5" dy="14.6">RNA metabolic</tspan><tspan x="3063.5" dy="14.6">process</tspan></text></g>
<g id="ptrge" class="nd"><rect x="3140" y="754" width="133" height="49"/><text x="3206.5" y="768.4">post-transcriptional<tspan x="3206.5" dy="14.6">regulation of</tspan><tspan x="3206.5" dy="14.6">gene expression</tspan></text></g>
<g id="mrnamp" class="nd"><rect x="3399" y="754" width="116" height="49"/><text x="3457" y="775.7">mRNA metabolic<tspan x="3457" dy="14.6">process</tspan></text></g>
<g id="nrgexp" class="nd"><rect x="3539" y="754" width="134" height="49"/><text x="3606" y="775.7">negative regulation<tspan x="3606" dy="14.6">of gene expression</tspan></text></g>
<g id="prgexp" class="nd"><rect x="3697" y="754" width="131" height="49"/><text x="3762.5" y="775.7">positive regulation<tspan x="3762.5" dy="14.6">of gene expression</tspan></text></g>
<g id="nrpromp" class="nd"><rect x="4224" y="754" width="138" height="49"/><text x="4293" y="768.4">negative regulation<tspan x="4293" dy="14.6">of protein metabolic</tspan><tspan x="4293" dy="14.6">process</tspan></text></g>
<g id="nrmbp" class="nd"><rect x="4437" y="747" width="133" height="64"/><text x="4503.5" y="761.6">negative regulation<tspan x="4503.5" dy="14.6">of macromolecule</tspan><tspan x="4503.5" dy="14.6">biosynthetic</tspan><tspan x="4503.5" dy="14.6">process</tspan></text></g>
<g id="transl" class="nd"><rect x="4668" y="754" width="75" height="49"/><text x="4705.5" y="783">translation</text></g>
<g id="sdev" class="nd b"><rect x="1423" y="859" width="162" height="49"/><text x="1504" y="888">spermatid development</text></g>
<g id="rrnas" class="nd"><rect x="2572" y="859" width="91" height="49"/><text x="2617.5" y="880.7">regulation of<tspan x="2617.5" dy="14.6">RNA stability</tspan></text></g>
<g id="nrrnamp" class="nd"><rect x="2953" y="859" width="134" height="49"/><text x="3020" y="873.4">negative regulation<tspan x="3020" dy="14.6">of RNA metabolic</tspan><tspan x="3020" dy="14.6">process</tspan></text></g>
<g id="rmrnamp" class="nd"><rect x="3234" y="859" width="115" height="49"/><text x="3291.5" y="873.4">regulation of<tspan x="3291.5" dy="14.6">mRNA metabolic</tspan><tspan x="3291.5" dy="14.6">process</tspan></text></g>
<g id="mrnacp" class="nd"><rect x="3374" y="859" width="110" height="49"/><text x="3429" y="880.7">mRNA catabolic<tspan x="3429" dy="14.6">process</tspan></text></g>
<g id="rtransl" class="nd"><rect x="4492" y="859" width="88" height="49"/><text x="4536" y="880.7">regulation of<tspan x="4536" dy="14.6">translation</tspan></text></g>
<g id="nrrnacp" class="nd"><rect x="2864" y="957" width="133" height="50"/><text x="2930.5" y="971.9">negative regulation<tspan x="2930.5" dy="14.6">of RNA catabolic</tspan><tspan x="2930.5" dy="14.6">process</tspan></text></g>
<g id="rmrnacp" class="nd"><rect x="3098" y="957" width="110" height="50"/><text x="3153" y="971.9">regulation of<tspan x="3153" dy="14.6">mRNA catabolic</tspan><tspan x="3153" dy="14.6">process</tspan></text></g>
<g id="nrmrnamp" class="nd"><rect x="3233" y="957" width="134" height="50"/><text x="3300" y="971.9">negative regulation<tspan x="3300" dy="14.6">of mRNA metabolic</tspan><tspan x="3300" dy="14.6">process</tspan></text></g>
<g id="nrtransl" class="nd b"><rect x="4387" y="957" width="133" height="50"/><text x="4453.5" y="979.2">negative regulation<tspan x="4453.5" dy="14.6">of translation</tspan></text></g>
<g id="rnastab" class="nd"><rect x="2872" y="1057" width="117" height="48"/><text x="2930.5" y="1085.5">RNA stabilization</text></g>
<g id="rmrnas" class="nd"><rect x="3027" y="1057" width="104" height="48"/><text x="3079" y="1078.2">regulation of<tspan x="3079" dy="14.6">mRNA stability</tspan></text></g>
<g id="nrmrnacp" class="nd"><rect x="3160" y="1057" width="134" height="48"/><text x="3227" y="1070.9">negative regulation<tspan x="3227" dy="14.6">of mRNA catabolic</tspan><tspan x="3227" dy="14.6">process</tspan></text></g>
<g id="mrnastab" class="nd b"><rect x="3013" y="1154" width="131" height="49"/><text x="3078.5" y="1183">mRNA stabilization</text></g>
</g>
</svg>
